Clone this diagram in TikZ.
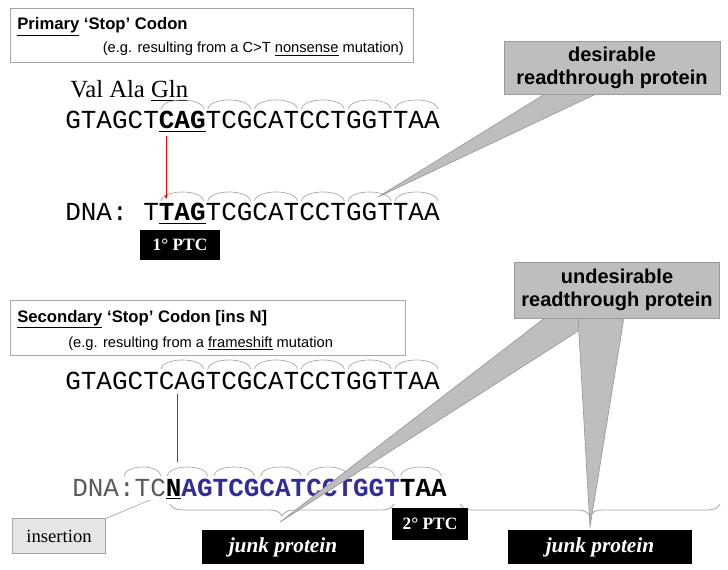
\documentclass[tikz,border=0pt]{standalone}
\usepackage{fontspec}
\setmainfont{Liberation Serif}
\setsansfont{Liberation Sans}
\setmonofont{Liberation Mono}
\usetikzlibrary{decorations.pathreplacing,arrows.meta}
\definecolor{seqblue}{RGB}{50,45,150}
\definecolor{cgray}{RGB}{190,190,190}
\begin{document}
\begin{tikzpicture}[x=0.75pt,y=-0.75pt,
  seq/.style={anchor=base west,inner sep=0pt,font=\ttfamily\fontsize{19.5}{20}\selectfont},
  hdrbox/.style={draw=gray!70,line width=0.6pt},
  blk/.style={fill=black,text=white,inner sep=0pt,font=\bfseries\fontsize{13}{14}\selectfont},
  junk/.style={fill=black,text=white,inner sep=0pt,font=\bfseries\itshape\fontsize{16}{17}\selectfont},
  callout/.style={fill=cgray,draw=gray!80,line width=0.5pt,align=center,inner sep=0pt,font=\sffamily\bfseries\fontsize{15}{17}\selectfont},
  wedge/.style={fill=cgray,draw=gray!80,line width=0.5pt},
  arc/.style={draw=gray!70,line width=0.5pt},
  redln/.style={draw=red,line width=0.6pt},
  brc/.style={draw=gray!70,line width=0.6pt,decorate,decoration={brace,mirror,amplitude=9pt}}]
\useasboundingbox (0,0) rectangle (728,570);
\newcommand{\codarc}[3]{\draw[arc] (#1+2,#3) .. controls (#1+4,#3-12) and (#2-4,#3-12) .. (#2-2,#3);}
% header box 1
\draw[hdrbox] (10,8) rectangle (413,62);
\node[anchor=base west,inner sep=0pt,font=\sffamily\bfseries\fontsize{12.5}{14}\selectfont] (h1) at (17,30) {\underline{Primary} ‘Stop’ Codon};
\node[anchor=base east,inner sep=0pt,font=\sffamily\fontsize{11}{13}\selectfont] (h1b) at (404,53) {(e.g. resulting from a C>T \underline{nonsense} mutation)};
\node[anchor=base west,inner sep=0pt,font=\fontsize{18.5}{20}\selectfont] (aa) at (70,98) {Val Ala \underline{Gln}};
% row 1
\node[seq] (r1) at (65,129) {GTAGCT\textbf{\underline{CAG}}TCGCATCCTGGTTAA};
\foreach \k in {0,...,5}{\codarc{159+\k*46.8}{159+\k*46.8+46.8}{109}}
% row 2
\node[seq] (r2) at (65,221) {DNA: T\textbf{\underline{TAG}}TCGCATCCTGGTTAA};
\foreach \k in {0,...,5}{\codarc{159+\k*46.8}{159+\k*46.8+46.8}{201}}
\coordinate (a1s) at (166,136); \coordinate (a1e) at (166,199);
\draw[redln,-{Stealth[length=3pt,width=2.5pt]}] (a1s) -- (a1e);
\node[blk,minimum width=60pt,minimum height=22pt] (ptc1) at (180,245) {1° PTC};
% desirable callout
\coordinate (t1) at (378,197);
\draw[wedge] (545,94) -- (t1) -- (596,94);
\node[callout,minimum width=162pt,minimum height=40pt] (des) at (612,68) {desirable\\readthrough protein};
% header box 2
\draw[hdrbox] (10,300) rectangle (405,355);
\node[anchor=base west,inner sep=0pt,font=\sffamily\bfseries\fontsize{12.5}{14}\selectfont] (h2) at (17,322) {\underline{Secondary} ‘Stop’ Codon [ins N]};
\node[anchor=base west,inner sep=0pt,font=\sffamily\fontsize{11}{13}\selectfont] (h2b) at (68,347) {(e.g. resulting from a \underline{frameshift} mutation};
% row 3
\node[seq] (r3) at (65,389) {GTAGCTCAGTCGCATCCTGGTTAA};
\foreach \k in {0,...,5}{\codarc{159+\k*46.8}{159+\k*46.8+46.8}{369}}
\coordinate (a2s) at (177,394); \coordinate (a2e) at (177,462);
\draw[redln] (a2s) -- (a2e);
% row 4
\node[seq] (r4) at (72,496) {\color{gray!70!black}DNA:TC\color{black}\textbf{\underline{N}}\color{seqblue}\textbf{AGTCGCATCCTGGT}\color{black}\textbf{TAA}};
\codarc{122}{163}{476}
\foreach \k in {0,...,5}{\codarc{165+\k*46.7}{165+\k*46.7+45}{476}}
% undesirable callout wedges
\coordinate (t2) at (280,522);
\coordinate (t3) at (590,527);
\draw[wedge] (546,317) -- (t2) -- (600,317);
\draw[wedge] (578,317) -- (t3) -- (624,317);
\node[callout,minimum width=154pt,minimum height=42pt] (und) at (617,290) {undesirable\\readthrough protein};
% braces
\coordinate (b1l) at (170,504); \coordinate (b1r) at (394,504);
\draw[brc] (b1l) -- (b1r);
\coordinate (b2l) at (460,504); \coordinate (b2r) at (720,504);
\draw[brc] (b2l) -- (b2r);
\node[junk,minimum width=122pt,minimum height=26pt] (j1) at (283,547) {junk protein};
\node[blk,minimum width=57pt,minimum height=24pt] (ptc2) at (430,524) {2° PTC};
\node[junk,minimum width=138pt,minimum height=26pt] (j2) at (600,547) {junk protein};
% insertion
\node[draw=gray!70,fill=gray!20,inner sep=0pt,minimum width=70pt,minimum height=26pt,font=\fontsize{14}{16}\selectfont] (ins) at (59,536) {insertion};
\coordinate (insp) at (150,500);
\draw[gray!70,line width=0.5pt] (ins.north east) -- (insp);
\end{tikzpicture}
\end{document}
